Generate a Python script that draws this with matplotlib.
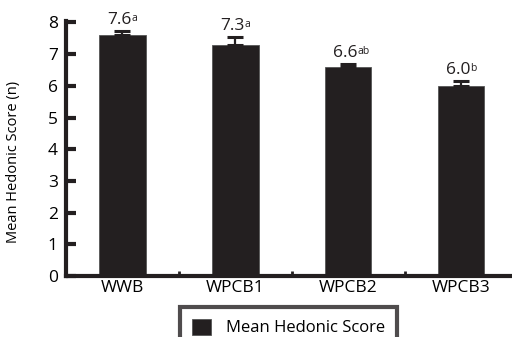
import matplotlib
matplotlib.use("Agg")
import matplotlib.pyplot as plt
from matplotlib.ticker import FixedLocator

plt.rcParams['font.family'] = ['Open Sans', 'DejaVu Sans']

categories = ["WWB", "WPCB1", "WPCB2", "WPCB3"]
means = [7.6, 7.3, 6.6, 6.0]
errors = [0.12, 0.25, 0.10, 0.15]
letters = ["a", "a", "ab", "b"]
yticks = [0, 1, 2, 3, 4, 5, 6, 7, 8]

bar_color = "#231f20"

fig = plt.figure(figsize=(5.12, 3.37), dpi=100)
ax = fig.add_axes([0.129, 0.181, 0.871, 0.757])

x = list(range(len(categories)))
ax.bar(x, means, width=0.41, color=bar_color, edgecolor="#555555", linewidth=0.6,
       label="Mean Hedonic Score", zorder=2)
ax.errorbar(x, means, yerr=[[0] * len(errors), errors], fmt="none",
            ecolor=bar_color, elinewidth=1.6, capsize=5.5, capthick=2.2, zorder=3)

# value labels with significance letters as small superscripts
for xi, m, e, l in zip(x, means, errors, letters):
    t = ax.text(xi - 0.03, m + e + 0.1, f"{m:.1f}", ha="center", va="bottom",
                fontsize=12.5, color=bar_color)
    ax.annotate(l, xy=(1.0, 0.92), xycoords=t, ha="left", va="top",
                fontsize=7.5, color=bar_color)

ax.set_xlim(-0.5, 3.45)
ax.set_ylim(0, 8.05)
ax.set_xticks(x)
ax.set_xticklabels(categories, fontsize=12.5)
ax.set_yticks(yticks)
ax.set_yticklabels([str(t) for t in yticks], fontsize=12.5)
ax.xaxis.set_minor_locator(FixedLocator([0.5, 1.5, 2.5]))

for side in ("top", "right"):
    ax.spines[side].set_visible(False)
for side in ("left", "bottom"):
    ax.spines[side].set_linewidth(3)
    ax.spines[side].set_color(bar_color)

ax.tick_params(axis="y", direction="in", length=7, width=3, color=bar_color, pad=6)
ax.tick_params(axis="x", which="major", length=0, pad=3)
ax.tick_params(axis="x", which="minor", direction="in", length=3.5, width=2, color=bar_color)

ax.set_ylabel("Mean Hedonic Score (n)", fontsize=10.5)
ax.yaxis.set_label_coords(-0.100, 0.447)

leg = fig.legend(loc="upper left", bbox_to_anchor=(180 / 512, 1 - 307 / 337), fontsize=12,
                 frameon=True, fancybox=False, handlelength=1.15, handleheight=1.1,
                 borderpad=0.7, borderaxespad=0, handletextpad=0.9)
leg.get_frame().set_edgecolor(bar_color)
leg.get_frame().set_linewidth(3)

fig.savefig("out.png", dpi=100)
